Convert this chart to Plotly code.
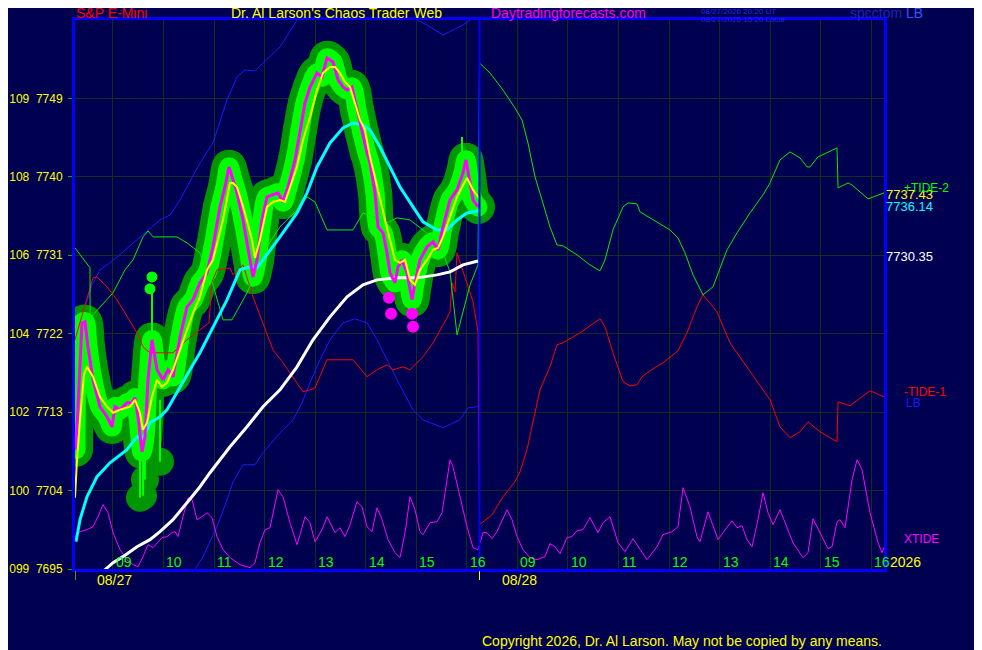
import plotly.graph_objects as go

# ---------------- data (clock hour of the session, value) ----------------
price_h = [8.27, 8.388, 8.448, 8.507, 8.606, 8.744, 8.883, 8.982, 9.041, 9.14, 9.278, 9.377,
           9.437, 9.496, 9.575, 9.634, 9.694, 9.773, 9.872, 9.99, 10.089, 10.188, 10.327, 10.465,
           10.584, 10.722, 10.861, 10.979, 11.118, 11.217, 11.296, 11.375, 11.454, 11.573, 11.711,
           11.77, 11.85, 11.948, 12.047, 12.166, 12.265, 12.364, 12.463, 12.601, 12.7, 12.799,
           12.898, 13.036, 13.135, 13.234, 13.353, 13.452, 13.551, 13.63, 13.728, 13.827, 13.926,
           14.025, 14.084, 14.183, 14.243, 14.342, 14.421, 14.48, 14.579, 14.638, 14.717, 14.816,
           14.915, 14.975, 15.073, 15.212, 15.331, 15.43, 15.528, 15.667, 15.805, 15.924, 15.983,
           16.042, 16.122, 16.221]
price_v = [7708.68, 7723.25, 7723.36, 7720.5, 7716.71, 7713.62, 7712.47, 7711.32, 7713.62, 7713.27,
           7714.07, 7714.07, 7714.65, 7712.47, 7708.46, 7710.17, 7716.71, 7721.3, 7717.86, 7716.71,
           7717.86, 7717.06, 7721.64, 7725.08, 7725.89, 7727.84, 7728.98, 7731.97, 7736.55, 7738.84,
           7741.14, 7739.65, 7738.16, 7735.06, 7730.47, 7728.52, 7730.47, 7735.06, 7737.7, 7737.93,
           7738.16, 7737.12, 7738.84, 7741.94, 7745.38, 7748.48, 7750.31, 7751.92, 7751.46, 7753.64,
           7753.18, 7751.12, 7750.31, 7749.97, 7750.31, 7747.68, 7745.04, 7742.74, 7741.6, 7738.16,
           7734.26, 7733.57, 7731.28, 7728.98, 7727.84, 7729.67, 7730.47, 7728.98, 7725.89, 7727.84,
           7730.47, 7731.97, 7732.54, 7731.62, 7734.26, 7737.35, 7738.5, 7740.45, 7741.94, 7739.99,
           7737.35, 7736.55]

yellow_h = [8.25, 8.29, 8.349, 8.428, 8.487, 8.606, 8.744, 8.883, 9.002, 9.14, 9.338, 9.437, 9.536,
            9.595, 9.674, 9.773, 9.872, 9.971, 10.07, 10.188, 10.327, 10.465, 10.584, 10.722, 10.861,
            10.979, 11.177, 11.316, 11.375, 11.454, 11.612, 11.751, 11.81, 11.909, 12.047, 12.166,
            12.304, 12.403, 12.502, 12.641, 12.759, 12.898, 13.036, 13.155, 13.293, 13.392, 13.491,
            13.59, 13.689, 13.788, 13.887, 13.986, 14.084, 14.183, 14.282, 14.381, 14.48, 14.579,
            14.678, 14.777, 14.876, 14.975, 15.073, 15.212, 15.331, 15.43, 15.528, 15.667, 15.805,
            16.003, 16.122, 16.26]
yellow_v = [7703.18, 7707.54, 7712.12, 7717.29, 7718.2, 7717.06, 7714.76, 7713.62, 7712.93, 7713.27,
            7713.62, 7714.42, 7712.93, 7710.98, 7711.78, 7714.76, 7716.71, 7715.91, 7716.37, 7717.86,
            7720.15, 7722.45, 7724.39, 7726.23, 7729.33, 7730.47, 7735.06, 7739.3, 7739.3, 7738.84,
            7735.86, 7732.77, 7730.7, 7732.77, 7736.55, 7737.12, 7737.35, 7737.12, 7738.84, 7741.14,
            7744.23, 7746.87, 7749.97, 7751.92, 7752.61, 7752.61, 7751.92, 7750.89, 7750.31, 7748.48,
            7746.53, 7745.38, 7742.29, 7739.99, 7737.35, 7735.06, 7732.77, 7730.47, 7730.13, 7730.47,
            7728.18, 7727.61, 7729.33, 7730.47, 7731.62, 7731.85, 7733.11, 7735.4, 7737.7, 7739.88,
            7738.5, 7737.43]

cyan_h = [8.27, 8.349, 8.487, 8.685, 8.942, 9.278, 9.476, 9.595, 9.733, 9.931, 10.07, 10.188, 10.327,
          10.524, 10.722, 10.979, 11.256, 11.513, 11.711, 11.85, 11.968, 12.304, 12.641, 12.839,
          13.036, 13.293, 13.551, 13.748, 13.946, 14.084, 14.282, 14.48, 14.678, 14.935, 15.133,
          15.41, 15.608, 15.805, 16.003, 16.26]
cyan_v = [7698.13, 7700.66, 7703.29, 7705.59, 7707.19, 7708.68, 7710.17, 7710.06, 7711.78, 7712.47,
          7713.27, 7714.42, 7715.91, 7717.86, 7719.81, 7722.79, 7725.89, 7729.33, 7729.67, 7729.56,
          7730.47, 7733.11, 7735.86, 7738.16, 7741.14, 7743.89, 7745.61, 7746.18, 7745.95, 7745.38,
          7743.43, 7741.14, 7738.84, 7736.55, 7734.83, 7733.91, 7733.91, 7735.06, 7735.86, 7736.14]

white_h = [8.606, 8.843, 9.002, 9.199, 9.476, 9.733, 9.931, 10.188, 10.465, 10.722, 10.92, 11.118,
           11.316, 11.652, 11.968, 12.304, 12.641, 12.957, 13.293, 13.63, 13.946, 14.223, 14.618,
           15.014, 15.41, 15.667, 15.924, 16.221]
white_v = [7693.2, 7694.92, 7695.73, 7696.42, 7697.56, 7698.37, 7699.28, 7700.66, 7702.61, 7704.44,
           7706.05, 7707.54, 7709.03, 7711.32, 7713.62, 7715.56, 7718.2, 7721.3, 7723.94, 7726.23,
           7727.61, 7728.18, 7728.41, 7728.41, 7728.75, 7729.1, 7729.9, 7730.35]

band_up_h = [8.468, 8.586, 8.744, 8.942, 9.199, 9.476, 9.733, 9.931, 10.129, 10.327, 10.722, 10.979,
             11.256, 11.454, 11.612, 11.81, 11.968, 12.304, 12.641, 13.095, 14.282, 15.014, 15.212,
             15.528, 15.924, 16.063, 16.221]
band_up_v = [7725.31, 7727.61, 7729.33, 7730.13, 7731.39, 7732.77, 7734.14, 7735.06, 7735.63, 7737.35,
             7741.6, 7743.89, 7748.82, 7751.46, 7752.26, 7752.15, 7753.07, 7754.9, 7757.99, 7761.44,
             7762.58, 7757.99, 7757.42, 7756.28, 7757.42, 7757.99, 7760.29]

band_lo_h = [10.426, 10.781, 11.058, 11.256, 11.375, 11.573, 11.81, 11.968, 12.304, 12.562, 12.74,
             12.898, 13.095, 13.293, 13.551, 13.788, 14.025, 14.223, 14.421, 14.619, 14.935, 15.133,
             15.528, 15.864, 16.023, 16.221]
band_lo_v = [7693.2, 7696.41, 7699.85, 7702.9, 7705.0, 7706.96, 7706.96, 7708.34, 7710.63, 7712.12,
             7714.07, 7716.37, 7719.01, 7721.3, 7723.25, 7723.71, 7723.25, 7721.3, 7719.01, 7716.71,
             7713.27, 7712.12, 7711.21, 7712.12, 7713.5, 7713.62]

tide2_d1_h = [8.25, 8.547, 8.548, 8.606, 9.002, 9.239, 9.397, 9.595, 9.694, 9.793, 10.267, 10.465,
              10.722, 10.979, 11.177, 11.355, 11.553, 11.652, 11.968, 12.304, 12.641, 12.839, 12.997,
              13.234, 13.748, 13.946, 14.421, 14.619, 14.876, 15.133, 15.469, 15.667, 15.805, 16.063,
              16.221]
tide2_d1_v = [7731.85, 7729.56, 7723.59, 7724.17, 7726.69, 7729.33, 7730.47, 7733.11, 7733.8, 7733.11,
              7733.11, 7732.42, 7731.28, 7727.61, 7723.59, 7723.59, 7725.66, 7726.69, 7731.28, 7734.26,
              7736.21, 7737.7, 7737.12, 7733.91, 7733.91, 7735.86, 7734.72, 7735.29, 7735.06, 7733.91,
              7732.19, 7729.1, 7721.87, 7727.61, 7729.9]
tide2_d2_h = [8.25, 8.458, 8.715, 8.952, 9.091, 9.209, 9.348, 9.486, 9.644, 9.783, 9.901, 10.178,
              10.435, 10.633, 10.732, 10.89, 11.088, 11.187, 11.365, 11.424, 11.76, 12.018, 12.176,
              12.314, 12.473, 12.67, 12.868, 13.145, 13.343, 13.6, 13.857, 13.996, 14.193, 14.391,
              14.589, 14.728, 14.787, 14.945, 15.321, 15.341, 15.539, 15.618, 15.935, 16.073, 16.251]
tide2_d2_v = [7753.07, 7751.92, 7749.97, 7747.9, 7746.53, 7743.89, 7739.99, 7737.35, 7734.26, 7732.19,
              7732.08, 7731.05, 7729.9, 7729.21, 7730.47, 7733.91, 7736.55, 7737.01, 7736.9, 7735.98,
              7734.83, 7733.91, 7732.99, 7731.28, 7728.75, 7726.46, 7727.38, 7731.62, 7733.57, 7735.86,
              7737.93, 7739.3, 7741.94, 7742.86, 7742.17, 7741.14, 7741.14, 7742.29, 7743.32, 7738.73,
              7739.3, 7739.07, 7737.47, 7737.81, 7738.16]

tide1_d1_h = [8.25, 8.606, 8.685, 8.883, 9.081, 9.278, 9.476, 9.595, 9.733, 10.188, 10.465, 10.9,
              10.96, 11.058, 11.316, 11.375, 11.573, 11.77, 11.968, 12.166, 12.364, 12.562, 12.759,
              12.898, 12.997, 13.234, 13.748, 14.025, 14.223, 14.421, 14.539, 14.737, 14.876, 15.133,
              15.331, 15.608, 15.667, 15.706, 15.766, 15.805, 15.924, 16.122, 16.221]
tide1_d1_v = [7721.3, 7728.41, 7728.52, 7727.38, 7725.89, 7723.94, 7722.1, 7720.5, 7719.81, 7719.81,
              7721.3, 7723.25, 7727.95, 7729.33, 7729.56, 7728.75, 7729.9, 7726.23, 7723.25, 7720.15,
              7718.66, 7717.06, 7715.34, 7715.56, 7715.79, 7719.01, 7719.01, 7717.06, 7717.86, 7718.43,
              7717.86, 7718.2, 7717.86, 7719.35, 7720.95, 7723.82, 7724.51, 7727.84, 7726.8, 7731.28,
              7729.1, 7725.66, 7722.21]
tide1_d2_h = [8.25, 8.497, 8.715, 8.952, 9.051, 9.189, 9.308, 9.446, 9.644, 9.783, 9.901, 10.238,
              10.633, 10.732, 10.89, 11.088, 11.227, 11.365, 11.464, 11.622, 11.879, 12.176, 12.354,
              12.551, 12.67, 12.947, 13.204, 13.343, 13.738, 13.996, 14.193, 14.391, 14.589, 14.747,
              14.985, 15.321, 15.341, 15.578, 15.974, 16.251]
tide1_d2_v = [7700.08, 7701.23, 7703.29, 7705.01, 7706.16, 7708.68, 7711.78, 7715.56, 7718.2, 7720.73,
              7720.95, 7722.1, 7723.71, 7722.79, 7719.81, 7716.48, 7716.02, 7716.14, 7717.06, 7717.74,
              7718.66, 7720.04, 7722.1, 7725.08, 7726.46, 7724.51, 7720.95, 7719.81, 7716.48, 7714.42,
              7711.32, 7710.06, 7710.75, 7711.89, 7710.75, 7709.6, 7714.19, 7713.73, 7715.45, 7714.76]

xtide_d1_h = [8.25, 8.349, 8.487, 8.606, 8.705, 8.804, 8.903, 9.002, 9.14, 9.278, 9.397, 9.496, 9.595,
              9.694, 9.793, 9.872, 9.971, 10.07, 10.168, 10.228, 10.287, 10.386, 10.485, 10.564,
              10.663, 10.762, 10.861, 10.96, 11.058, 11.177, 11.316, 11.513, 11.711, 11.81, 11.909,
              12.008, 12.107, 12.265, 12.364, 12.502, 12.641, 12.7, 12.799, 12.898, 12.997, 13.135,
              13.234, 13.333, 13.392, 13.491, 13.59, 13.689, 13.827, 13.926, 14.025, 14.124, 14.223,
              14.322, 14.441, 14.579, 14.678, 14.777, 14.876, 14.975, 15.073, 15.133, 15.271, 15.41,
              15.509, 15.608, 15.667, 15.726, 15.864, 16.003, 16.122, 16.221]
xtide_d1_v = [7698.71, 7699.28, 7699.51, 7699.85, 7701.0, 7702.38, 7701.46, 7699.17, 7697.22, 7696.07,
              7695.5, 7695.27, 7696.42, 7697.79, 7697.45, 7698.02, 7698.6, 7698.71, 7699.17, 7699.28,
              7698.71, 7701.0, 7703.18, 7702.95, 7700.66, 7701.0, 7701.46, 7700.89, 7698.71, 7697.22,
              7696.3, 7695.5, 7695.16, 7695.73, 7698.02, 7699.51, 7699.74, 7704.1, 7703.29, 7700.31,
              7697.79, 7698.94, 7701.0, 7700.31, 7698.13, 7699.51, 7701.0, 7699.85, 7699.17, 7699.74,
              7698.71, 7700.08, 7702.72, 7702.15, 7699.85, 7699.28, 7702.03, 7700.66, 7698.37, 7696.87,
              7696.3, 7699.17, 7703.29, 7701.8, 7699.28, 7698.94, 7700.31, 7700.43, 7701.46, 7705.25,
              7707.54, 7706.73, 7703.29, 7699.85, 7697.45, 7697.22]
xtide_d2_h = [8.319, 8.398, 8.497, 8.596, 8.794, 8.893, 8.992, 9.11, 9.249, 9.387, 9.545, 9.644, 9.743,
              9.842, 9.981, 10.08, 10.178, 10.297, 10.435, 10.594, 10.693, 10.831, 10.989, 11.128,
              11.286, 11.424, 11.563, 11.76, 11.879, 12.057, 12.176, 12.275, 12.413, 12.551, 12.611,
              12.769, 12.868, 12.967, 13.066, 13.244, 13.343, 13.442, 13.541, 13.64, 13.758, 13.857,
              13.956, 14.055, 14.193, 14.332, 14.45, 14.648, 14.747, 14.846, 14.985, 15.143, 15.222,
              15.321, 15.381, 15.48, 15.618, 15.717, 15.816, 15.974, 16.132, 16.211, 16.27]
xtide_d2_v = [7699.17, 7699.17, 7698.48, 7699.28, 7701.8, 7700.66, 7698.71, 7697.22, 7696.3, 7696.07,
              7696.42, 7697.91, 7697.56, 7696.76, 7698.6, 7698.71, 7699.4, 7699.51, 7700.89, 7699.17,
              7700.31, 7701.0, 7698.02, 7696.99, 7698.48, 7697.22, 7696.07, 7697.56, 7698.94, 7699.28,
              7699.85, 7704.33, 7702.15, 7698.71, 7698.13, 7701.57, 7700.08, 7698.37, 7699.17, 7700.54,
              7699.74, 7699.97, 7698.37, 7697.56, 7700.66, 7703.75, 7701.46, 7700.08, 7701.8, 7699.85,
              7698.02, 7696.3, 7696.87, 7700.77, 7699.17, 7697.33, 7697.56, 7700.43, 7700.66, 7699.74,
              7705.25, 7707.54, 7706.39, 7701.46, 7698.02, 7696.87, 7697.79]

bar_h = [9.536, 9.595, 9.634, 9.773, 9.931, 15.904]
bar_lo = [7703.18, 7703.4, 7705.25, 7716.14, 7707.31, 7737.35]
bar_hi = [7714.42, 7711.0, 7712.12, 7727.15, 7714.42, 7744.58]

green_dot_h = [9.773, 9.733]
green_dot_v = [7728.52, 7727.15]
pink_dot_h = [14.46, 14.5, 14.915, 14.935]
pink_dot_v = [7726.12, 7724.28, 7724.28, 7722.79]

ytick_vals = [7695, 7704, 7713, 7722, 7731, 7740, 7749]
ytick_left = ["099", "100", "102", "104", "106", "108", "109"]
hour_ticks = [9, 10, 11, 12, 13, 14, 15, 16]
hour_labels = ["09", "10", "11", "12", "13", "14", "15", "16"]
day_labels = ["08/27", "08/28"]
stamp_lines = ["08/27/2026 20:20 UT", "08/27/2026 15:20 Local"]
SESSION_START = 8.25   # 08:15
SESSION_LEN = 8.0

# ---------------- helpers ----------------
def tx(hours, day):
    return [h - SESSION_START + SESSION_LEN * day for h in hours]

BG = "#000050"
GRID = "#12301a"
FONT = "Liberation Sans, Arial, sans-serif"
DARK_GLOW = "#009600"

fig = go.Figure()

px_t = tx(price_h, 0)

# glow around the price
fig.add_trace(go.Scatter(x=px_t, y=price_v, mode="lines+markers",
                         line=dict(color=DARK_GLOW, width=34, shape="spline"),
                         marker=dict(color=DARK_GLOW, size=34), hoverinfo="skip"))
fig.add_trace(go.Scatter(x=tx(bar_h, 0), y=bar_lo, mode="markers",
                         marker=dict(color=DARK_GLOW, size=28), hoverinfo="skip"))
fig.add_trace(go.Scatter(x=px_t, y=price_v, mode="lines+markers",
                         line=dict(color="#00ff00", width=19, shape="spline"),
                         marker=dict(color="#00ff00", size=19), hoverinfo="skip"))
bx, by = [], []
for h, lo, hi in zip(tx(bar_h, 0), bar_lo, bar_hi):
    bx += [h, h, None]
    by += [lo, hi, None]
fig.add_trace(go.Scatter(x=bx, y=by, mode="lines", line=dict(color="#00ff00", width=2),
                         hoverinfo="skip"))
fig.add_trace(go.Scatter(x=tx(green_dot_h, 0), y=green_dot_v, mode="markers",
                         marker=dict(color="#00ff00", size=11), hoverinfo="skip"))

# thin lines
fig.add_trace(go.Scatter(x=tx(band_up_h, 0), y=band_up_v, mode="lines",
                         line=dict(color="#1a1aff", width=1)))
fig.add_trace(go.Scatter(x=tx(band_lo_h, 0), y=band_lo_v, mode="lines",
                         line=dict(color="#1a1aff", width=1)))
fig.add_trace(go.Scatter(x=tx(tide1_d1_h, 0) + tx(tide1_d2_h, 1), y=tide1_d1_v + tide1_d2_v,
                         mode="lines", line=dict(color="#ff0000", width=1)))
fig.add_trace(go.Scatter(x=tx(tide2_d1_h, 0) + tx(tide2_d2_h, 1), y=tide2_d1_v + tide2_d2_v,
                         mode="lines", line=dict(color="#00ee00", width=1)))
fig.add_trace(go.Scatter(x=tx(xtide_d1_h, 0) + tx(xtide_d2_h, 1), y=xtide_d1_v + xtide_d2_v,
                         mode="lines", line=dict(color="#ff00ff", width=1)))

# averages and price
fig.add_trace(go.Scatter(x=tx(white_h, 0), y=white_v, mode="lines",
                         line=dict(color="#ffffff", width=3)))
fig.add_trace(go.Scatter(x=tx(cyan_h, 0), y=cyan_v, mode="lines",
                         line=dict(color="#00ffff", width=3)))
fig.add_trace(go.Scatter(x=px_t, y=price_v, mode="lines",
                         line=dict(color="#ff00ff", width=3)))
fig.add_trace(go.Scatter(x=tx(yellow_h, 0), y=yellow_v, mode="lines",
                         line=dict(color="#ffff00", width=2)))
fig.add_trace(go.Scatter(x=tx(pink_dot_h, 0), y=pink_dot_v, mode="markers",
                         marker=dict(color="#ff00ff", size=12)))

grid_x = tx(hour_ticks, 0) + tx(hour_ticks, 1)

# the page body adds an 8px offset, so the figure is 8px smaller and the margins shifted
fig.update_layout(
    width=974, height=642, showlegend=False,
    paper_bgcolor=BG, plot_bgcolor=BG,
    margin=dict(l=67, r=98, t=12, b=81, autoexpand=False),
    font=dict(family=FONT, size=14, color="#ffff00"),
    xaxis=dict(range=[0, 2 * SESSION_LEN], tickvals=grid_x, showticklabels=False,
               showgrid=True, gridcolor=GRID, gridwidth=1, zeroline=False, ticks="",
               automargin=False,
               showline=True, mirror=True, linecolor="#0000ff", linewidth=3),
    yaxis=dict(range=[7695, 7758], tickvals=ytick_vals,
               ticktext=[f"{a}\u00a0\u00a0{b}" for a, b in zip(ytick_left, ytick_vals)],
               tickfont=dict(color="#ffff00", size=12, family=FONT),
               ticks="outside", ticklen=4, tickcolor="#00b000", tickwidth=1,
               ticklabelstandoff=3, automargin=False,
               showgrid=True, gridcolor=GRID, gridwidth=1, zeroline=False,
               showline=True, mirror=True, linecolor="#0000ff", linewidth=3),
)

# day divider
fig.add_shape(type="line", xref="x", yref="paper", x0=SESSION_LEN, x1=SESSION_LEN, y0=0, y1=1,
              line=dict(color="#0000ff", width=2))
# day ticks below axis
for d in range(2):
    fig.add_shape(type="line", xref="x", yref="paper", x0=SESSION_LEN * d, x1=SESSION_LEN * d,
                  y0=-0.004, y1=-0.02, line=dict(color="#ffff00", width=1))

ann = []
for d in range(2):
    for h, lab in zip(hour_ticks, hour_labels):
        ann.append(dict(x=h - SESSION_START + SESSION_LEN * d, y=0, xref="x", yref="paper",
                        text=lab, xanchor="left", yanchor="bottom", xshift=1, yshift=-3,
                        showarrow=False, font=dict(color="#00ff00", size=14, family=FONT)))
    ann.append(dict(x=SESSION_LEN * d, y=-0.0195, xref="x", yref="paper", text=day_labels[d],
                    xanchor="left", yanchor="middle", xshift=20, showarrow=False,
                    font=dict(color="#ffff00", size=14, family=FONT)))

for i, line in enumerate(stamp_lines):
    ann.append(dict(x=0.7726, y=1.0, xref="paper", yref="paper", text=line,
                    xanchor="left", yanchor="middle", yshift=9 - 8 * i, showarrow=False,
                    borderpad=0, font=dict(color="#2525e0", size=8, family=FONT)))

title_font = lambda c: dict(color=c, size=14, family=FONT)
ann += [
    dict(x=1, y=0, xref="paper", yref="paper", text="2026", xanchor="left", yanchor="bottom",
         xshift=4, yshift=-3, showarrow=False, font=dict(color="#ffff00", size=14, family=FONT)),
    dict(x=1, y=-0.1305, xref="paper", yref="paper",
         text="Copyright 2026, Dr. Al Larson. May not be copied by any means.",
         xanchor="right", yanchor="middle", showarrow=False,
         font=dict(color="#ffff00", size=14, family=FONT)),
    dict(x=0, y=1.0128, xref="paper", yref="paper", text="S&P E-Mini", xanchor="left",
         yanchor="middle", showarrow=False, borderpad=0, font=title_font("#ff0000")),
    dict(x=0.1916, y=1.0128, xref="paper", yref="paper", text="Dr. Al Larson's Chaos Trader Web",
         xanchor="left", yanchor="middle", showarrow=False, borderpad=0,
         font=title_font("#ffff00")),
    dict(x=0.513, y=1.0128, xref="paper", yref="paper", text="Daytradingforecasts.com",
         xanchor="left", yanchor="middle", showarrow=False, borderpad=0,
         font=title_font("#ff00ff")),
    dict(x=0.957, y=1.0128, xref="paper", yref="paper",
         text="<span style='color:#2222b8'>spcctom</span> <span style='color:#3355ff'>LB</span>",
         xanchor="left", yanchor="middle", showarrow=False, borderpad=0,
         font=dict(size=14, family=FONT)),
    # right-side value and series labels
    dict(x=1, y=yellow_v[-1], xref="paper", yref="y", text=f"{yellow_v[-1]:.2f}",
         xanchor="left", yanchor="middle", xshift=0, yshift=5, showarrow=False,
         font=dict(color="#ffff00", size=13, family=FONT)),
    dict(x=1, y=cyan_v[-1], xref="paper", yref="y", text=f"{cyan_v[-1]:.2f}",
         xanchor="left", yanchor="middle", xshift=0, yshift=4, showarrow=False,
         font=dict(color="#00ffff", size=13, family=FONT)),
    dict(x=1, y=white_v[-1], xref="paper", yref="y", text=f"{white_v[-1]:.2f}",
         xanchor="left", yanchor="middle", xshift=0, yshift=4, showarrow=False,
         font=dict(color="#ffffff", size=13, family=FONT)),
    dict(x=1, y=tide2_d2_v[-1], xref="paper", yref="y", text="+TIDE-2",
         xanchor="left", yanchor="middle", xshift=18, yshift=5, showarrow=False,
         font=dict(color="#00ff00", size=12, family=FONT)),
    dict(x=1, y=tide1_d2_v[-1], xref="paper", yref="y", text="-TIDE-1",
         xanchor="left", yanchor="middle", xshift=18, yshift=5, showarrow=False,
         font=dict(color="#ff0000", size=12, family=FONT)),
    dict(x=1, y=band_lo_v[-1], xref="paper", yref="y", text="LB",
         xanchor="left", yanchor="middle", xshift=20, yshift=4, showarrow=False,
         font=dict(color="#1a1aff", size=12, family=FONT)),
    dict(x=1, y=xtide_d2_v[-1], xref="paper", yref="y", text="XTIDE",
         xanchor="left", yanchor="middle", xshift=18, yshift=6, showarrow=False,
         font=dict(color="#ff00ff", size=12, family=FONT)),
]
fig.update_layout(annotations=ann)

fig.write_html("out.html")
